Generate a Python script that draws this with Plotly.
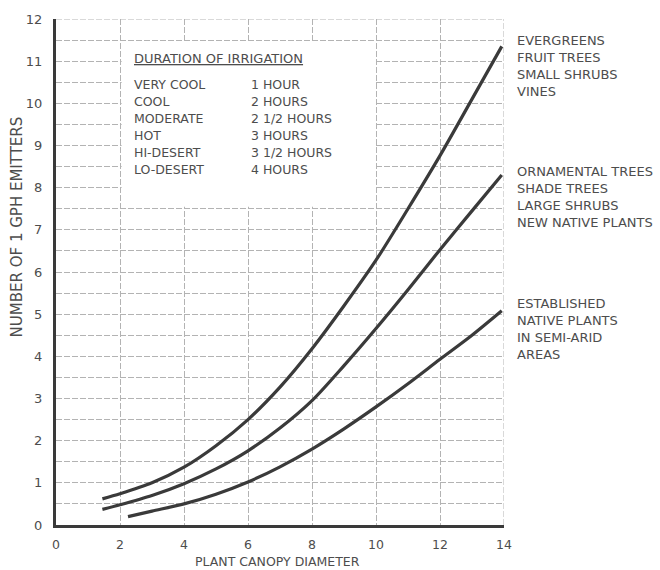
import plotly.graph_objects as go

# Canopy diameter (x) and emitter counts (y) for each plant group
canopy_evergreen = [1.45, 2, 3, 4, 5, 6, 7, 8, 9, 10, 11, 12, 13, 13.93]
emitters_evergreen = [0.62, 0.74, 1.0, 1.37, 1.88, 2.5, 3.27, 4.18, 5.2, 6.28, 7.5, 8.76, 10.1, 11.35]

canopy_ornamental = [1.45, 2, 3, 4, 5, 6, 7, 8, 9, 10, 11, 12, 13, 13.93]
emitters_ornamental = [0.37, 0.48, 0.7, 0.98, 1.33, 1.76, 2.3, 2.95, 3.78, 4.66, 5.58, 6.53, 7.45, 8.3]

canopy_native = [2.25, 3, 4, 5, 6, 7, 8, 9, 10, 11, 12, 13, 13.93]
emitters_native = [0.2, 0.33, 0.5, 0.73, 1.02, 1.38, 1.8, 2.28, 2.8, 3.35, 3.93, 4.5, 5.08]

label_evergreen = ["EVERGREENS", "FRUIT TREES", "SMALL SHRUBS", "VINES"]
label_ornamental = ["ORNAMENTAL TREES", "SHADE TREES", "LARGE SHRUBS", "NEW NATIVE PLANTS"]
label_native = ["ESTABLISHED", "NATIVE PLANTS", "IN SEMI-ARID", "AREAS"]

climate_zones = ["VERY COOL", "COOL", "MODERATE", "HOT", "HI-DESERT", "LO-DESERT"]
irrigation_times = ["1 HOUR", "2 HOURS", "2 1/2 HOURS", "3 HOURS", "3 1/2 HOURS", "4 HOURS"]

x_ticks = [0, 2, 4, 6, 8, 10, 12, 14]
y_grid = [i * 0.5 for i in range(25)]
y_tick_text = [str(int(v)) if v == int(v) else "" for v in y_grid]

Y_MAX = 12
FONT = "DejaVu Sans"
TEXT = "#4d4d4d"
INK = "#3a3a3a"
GRID = "#b3b3b3"
DASH = "6px,2px"

fig = go.Figure()
for xs, ys in [(canopy_evergreen, emitters_evergreen),
               (canopy_ornamental, emitters_ornamental),
               (canopy_native, emitters_native)]:
    fig.add_trace(go.Scatter(
        x=xs, y=ys, mode="lines",
        line=dict(color=INK, width=3.2, shape="spline", smoothing=0.8),
        hoverinfo="skip", showlegend=False,
    ))

annotations = []

def add_text(text, x, y, size=13, xref="x", yref="y", xanchor="left", **kw):
    annotations.append(dict(text=text, x=x, y=y, xref=xref, yref=yref,
                            xanchor=xanchor, yanchor="middle", showarrow=False,
                            font=dict(family=FONT, size=size, color=TEXT), **kw))

# Group labels to the right of the curve ends (paper coords, outside the plot area)
line_step = 0.405
for lines, y0 in [(label_evergreen, 11.49), (label_ornamental, 8.39), (label_native, 5.25)]:
    for i, t in enumerate(lines):
        add_text(t, 1.0246, (y0 - i * line_step) / Y_MAX, size=13,
                 xref="paper", yref="paper")

# Irrigation duration table
add_text("<u>DURATION OF IRRIGATION</u>", 2.37, 11.06, size=13)
row_step = 0.402
for i, (zone, hrs) in enumerate(zip(climate_zones, irrigation_times)):
    add_text(zone, 2.37, 10.45 - i * row_step, size=12.5)
    add_text(hrs, 6.04, 10.45 - i * row_step, size=12.5)

# Axis titles
add_text("NUMBER OF 1 GPH EMITTERS", -0.085, 0.59, size=15,
         xref="paper", yref="paper", xanchor="center", textangle=-90)
add_text("PLANT CANOPY DIAMETER", 0.4955, -0.073, size=12.5,
         xref="paper", yref="paper", xanchor="center")

shapes = [
    # white panel behind the duration table
    dict(type="rect", x0=2.05, x1=9.95, y0=7.55, y1=11.45, xref="x", yref="y",
         fillcolor="white", line=dict(width=0), layer="between"),
    # dashed frame on the top and right edges
    dict(type="line", x0=0, x1=14, y0=12, y1=12, xref="x", yref="y",
         line=dict(color=GRID, width=1, dash=DASH), layer="between"),
    dict(type="line", x0=14, x1=14, y0=0, y1=12, xref="x", yref="y",
         line=dict(color=GRID, width=1, dash=DASH), layer="between"),
]

fig.update_layout(
    width=660, height=570,
    margin=dict(l=56, r=156, t=15, b=45),
    paper_bgcolor="white", plot_bgcolor="white",
    font=dict(family=FONT, color=TEXT),
    annotations=annotations,
    shapes=shapes,
    xaxis=dict(
        range=[0, 14], tickvals=x_ticks, ticktext=[str(v) for v in x_ticks],
        showgrid=True, gridcolor=GRID, gridwidth=1, griddash=DASH,
        zeroline=False, showline=True, linecolor=INK, linewidth=3,
        ticks="", ticklabelstandoff=6,
        tickfont=dict(family=FONT, size=12.5, color=TEXT),
    ),
    yaxis=dict(
        range=[0, Y_MAX], tickvals=y_grid, ticktext=y_tick_text,
        showgrid=True, gridcolor=GRID, gridwidth=1, griddash=DASH,
        zeroline=False, showline=True, linecolor=INK, linewidth=3,
        ticks="", ticklabelstandoff=8,
        tickfont=dict(family=FONT, size=13, color=TEXT),
    ),
)

fig.write_html("out.html")
